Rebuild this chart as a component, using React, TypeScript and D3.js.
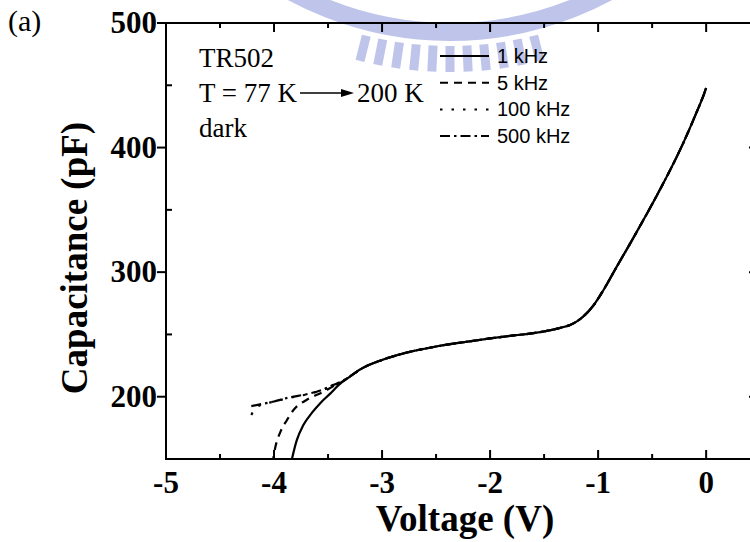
import React from "react";
import * as d3 from "d3";

// ---- data ----
const xTicks = [-5, -4, -3, -2, -1, 0];
const xMinor = [-4.5, -3.5, -2.5, -1.5, -0.5];
const yTicks = [200, 300, 400, 500];
const yMinor = [250, 350, 450];

// shared part of all four curves (V, pF)
const commonV = [-3.3, -3.2, -3.0, -2.8, -2.5, -2.2, -2.0, -1.8, -1.6, -1.45, -1.35, -1.26, -1.2, -1.14, -1.04, -0.95, -0.83, -0.7, -0.58, -0.46, -0.33, -0.21, -0.09, -0.02, 0.0];
const commonC = [216, 222, 229.5, 234.8, 240.3, 244.3, 246.8, 249, 251, 253.3, 255.3, 257.6, 260.3, 264.2, 273.6, 285.7, 304, 323.5, 342, 361, 382.5, 404, 428, 443, 448];

// low-bias tails per frequency
const tail1kV = [-3.845, -3.79, -3.73, -3.65, -3.57, -3.48, -3.4];
const tail1kC = [146, 165, 177, 187, 195, 202.5, 209.5];
const tail5kV = [-4.015, -3.99, -3.94, -3.88, -3.82, -3.7, -3.54, -3.45, -3.38];
const tail5kC = [146, 158.6, 172, 181.3, 189.3, 197.4, 204, 208.5, 211.5];
const tail100kV = [-4.21, -4.18, -4.12, -4.0, -3.85, -3.7, -3.54, -3.45, -3.38];
const tail100kC = [185.3, 190, 193.5, 196, 199.3, 201.8, 205.6, 209, 211.8];
const tail500kV = [-4.21, -4.0, -3.85, -3.7, -3.54, -3.45, -3.38];
const tail500kC = [192.5, 196.2, 199.6, 202, 206, 209.5, 212];

const seriesNames = ["1 kHz", "5 kHz", "100 kHz", "500 kHz"];
const seriesDash = ["", "8,6", "2.5,9", "10,4,2.5,4"];

const annotLines = ["TR502", "dark"];

export default function App() {
  const W = 750, H = 542;
  const x = d3.scaleLinear().domain([-5, 0.48]).range([166, 758]);
  const y = d3.scaleLinear().domain([150, 500]).range([459, 23]);
  const [x0, x1] = x.range();
  const [yb, yt] = y.range();

  const build = (tv: number[], tc: number[]) => {
    const pts: [number, number][] = tv.map((v, i) => [v, tc[i]]);
    commonV.forEach((v, i) => pts.push([v, commonC[i]]));
    return pts;
  };
  const series = [
    build(tail1kV, tail1kC),
    build(tail5kV, tail5kC),
    build(tail100kV, tail100kC),
    build(tail500kV, tail500kC),
  ];
  const line = d3
    .line<[number, number]>()
    .x((d) => x(d[0]))
    .y((d) => y(d[1]))
    .curve(d3.curveMonotoneX);

  const serif = "'Liberation Serif', 'Times New Roman', serif";
  const sans = "'Liberation Sans', Arial, sans-serif";

  // watermark geometry
  const wcx = 450, wcy = -300;
  const rays = d3.range(-14, 15, 2.8);

  return (
    <svg
      width={W}
      height={H}
      style={{ position: "absolute", left: 0, top: 0, background: "#fff" }}
    >
      <defs>
        <clipPath id="plot">
          <rect x={x0} y={yt} width={x1 - x0} height={yb - yt} />
        </clipPath>
      </defs>

      {/* faint watermark */}
      <g opacity={0.5}>
        <circle cx={wcx} cy={wcy} r={332} fill="none" stroke="#7f8ad6" strokeWidth={18} />
        {rays.map((a, i) => {
          const t = ((90 + a) * Math.PI) / 180;
          const r1 = 346, r2 = 372;
          return (
            <line
              key={i}
              x1={wcx + r1 * Math.cos(t)}
              y1={wcy + r1 * Math.sin(t)}
              x2={wcx + r2 * Math.cos(t)}
              y2={wcy + r2 * Math.sin(t)}
              stroke="#7f8ad6"
              strokeWidth={9}
            />
          );
        })}
      </g>

      {/* curves */}
      <g clipPath="url(#plot)">
        {series.map((s, i) => (
          <path
            key={i}
            d={line(s) || ""}
            fill="none"
            stroke="#000"
            strokeWidth={2.2}
            strokeDasharray={seriesDash[i] || undefined}
          />
        ))}
      </g>

      {/* frame */}
      <rect x={x0} y={yt} width={x1 - x0} height={yb - yt} fill="none" stroke="#000" strokeWidth={2} />

      {/* x ticks */}
      {xTicks.map((t) => (
        <g key={"xt" + t}>
          <line x1={x(t)} x2={x(t)} y1={yb} y2={yb - 9} stroke="#000" strokeWidth={2} />
          <line x1={x(t)} x2={x(t)} y1={yt} y2={yt + 9} stroke="#000" strokeWidth={2} />
          <text x={x(t)} y={493} textAnchor="middle" fontFamily={serif} fontWeight="bold" fontSize={31}>
            {String(t)}
          </text>
        </g>
      ))}
      {xMinor.map((t) => (
        <g key={"xm" + t}>
          <line x1={x(t)} x2={x(t)} y1={yb} y2={yb - 5} stroke="#000" strokeWidth={2} />
          <line x1={x(t)} x2={x(t)} y1={yt} y2={yt + 5} stroke="#000" strokeWidth={2} />
        </g>
      ))}

      {/* y ticks */}
      {yTicks.map((t) => (
        <g key={"yt" + t}>
          <line x1={x0 - 9} x2={x0} y1={y(t)} y2={y(t)} stroke="#000" strokeWidth={2} />
          <line x1={x1} x2={x1 - 9} y1={y(t)} y2={y(t)} stroke="#000" strokeWidth={2} />
          <text x={157} y={y(t) + 10} textAnchor="end" fontFamily={serif} fontWeight="bold" fontSize={31}>
            {String(t)}
          </text>
        </g>
      ))}
      {yMinor.map((t) => (
        <g key={"ym" + t}>
          <line x1={x0} x2={x0 + 6} y1={y(t)} y2={y(t)} stroke="#000" strokeWidth={2} />
          <line x1={x1} x2={x1 - 5} y1={y(t)} y2={y(t)} stroke="#000" strokeWidth={2} />
        </g>
      ))}

      {/* axis titles */}
      <text x={465} y={531} textAnchor="middle" fontFamily={serif} fontWeight="bold" fontSize={37}>
        Voltage (V)
      </text>
      <text
        transform="translate(87,258) rotate(-90)"
        textAnchor="middle"
        fontFamily={serif}
        fontWeight="bold"
        fontSize={37}
      >
        Capacitance (pF)
      </text>

      {/* panel label */}
      <text x={8} y={31} fontFamily={serif} fontSize={30}>
        (a)
      </text>

      {/* annotation */}
      <text x={199} y={67} fontFamily={serif} fontSize={27}>
        {annotLines[0]}
      </text>
      <text x={199} y={102} fontFamily={serif} fontSize={27}>
        T = 77 K
      </text>
      <line x1={300} x2={343} y1={93} y2={93} stroke="#000" strokeWidth={1.3} />
      <path d="M341,89 L354,93 L341,97 Z" fill="#000" />
      <text x={357} y={102} fontFamily={serif} fontSize={27}>
        200 K
      </text>
      <text x={199} y={137} fontFamily={serif} fontSize={27}>
        {annotLines[1]}
      </text>

      {/* legend */}
      {seriesNames.map((n, i) => {
        const ly = 56 + i * 26.7;
        return (
          <g key={n}>
            <line
              x1={440}
              x2={489}
              y1={ly}
              y2={ly}
              stroke="#000"
              strokeWidth={2}
              strokeDasharray={seriesDash[i] || undefined}
            />
            <text x={497} y={ly + 7} fontFamily={sans} fontSize={20}>
              {n}
            </text>
          </g>
        );
      })}
    </svg>
  );
}
